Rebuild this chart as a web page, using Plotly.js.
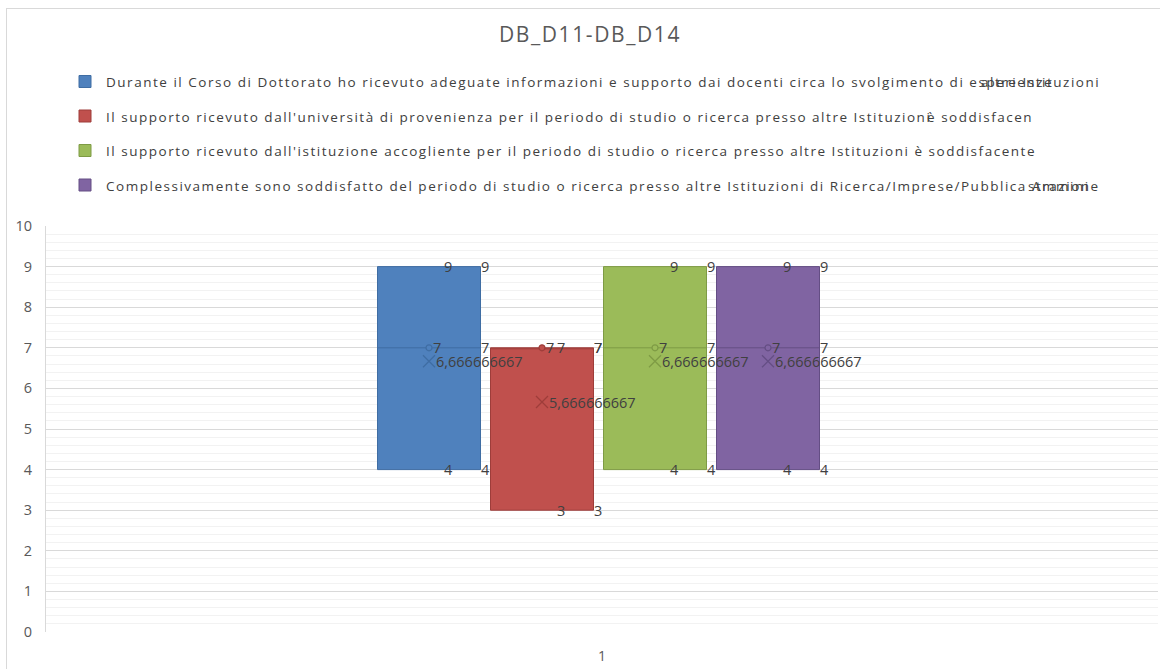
<!DOCTYPE html>
<html>
<head>
<meta charset="utf-8">
<script src="https://cdn.plot.ly/plotly-3.0.1.min.js"></script>
<style>
  html, body { margin: 0; padding: 0; background: #fff; overflow: hidden; }
  #wrap { position: relative; width: 1160px; height: 669px; overflow: hidden; }
  #chart { position: absolute; left: 0; top: 0; width: 1160px; height: 669px; }
  #frame { position: absolute; left: 6px; top: 8px; width: 1200px; height: 700px;
           border: 1px solid #d9d9d9; pointer-events: none; }
  .gtitle { letter-spacing: 1.6px; }
</style>
</head>
<body>
<div id="wrap"><div id="chart"></div><div id="frame"></div></div>
<script>
// ---------- data ----------
const chartTitle = "DB_D11-DB_D14";
const categories = ["1"];
const seriesNames = [
  "Durante il Corso di Dottorato ho ricevuto adeguate informazioni e supporto dai docenti circa lo svolgimento di esperienze",
  "Il supporto ricevuto dall'università di provenienza per il periodo di studio o ricerca presso altre Istituzioni",
  "Il supporto ricevuto dall'istituzione accogliente per il periodo di studio o ricerca presso altre Istituzioni è soddisfacente",
  "Complessivamente sono soddisfatto del periodo di studio o ricerca presso altre Istituzioni di Ricerca/Imprese/Pubblica Ammini"
];
// overflowing tails of the legend texts, drawn over the end as in the original
const seriesNameTails = ["altre Istituzioni", "è soddisfacen", "", "strazione"];
const seriesA = [4, 7, 9];
const seriesB = [3, 7, 7];
const seriesC = [4, 7, 9];
const seriesD = [4, 7, 9];
const seriesValues = [seriesA, seriesB, seriesC, seriesD];
const yTicks = [0, 1, 2, 3, 4, 5, 6, 7, 8, 9, 10];

// ---------- styles ----------
const fillColors = ["#4F81BD", "#C0504D", "#9BBB59", "#8064A2"];
const lineColors = ["#3F6DA3", "#9E3D3A", "#7E9B45", "#644E84"];
const textColor = "#404040";
const axisTextColor = "#595959";
const FONT = "Open Sans, Liberation Sans, sans-serif";
const LEG_SIZE = 13.5;
const legendRefWidthPx = 930;     // width of the complete 3rd legend text in the reference
const tailEndsPx = [1100, null, 0, 1100];   // null: tail follows the main text directly

// layout geometry (pixels)
const W = 1160, H = 669;
const M = { l: 46, r: 2, t: 226, b: 37 };
const plotW = W - M.l - M.r;
const plotH = H - M.t - M.b;
const pxU = 1 / plotW;          // one pixel in x data units (range width 1)
const pyU = 10 / plotH;         // one pixel in y data units
const boxWpx = 103, stepPx = 113, groupShiftPx = -3.5;
const legTextX = 104;

function px2paperX(px) { return (px - M.l) / plotW; }
function px2paperY(py) { return (M.t + plotH - py) / plotH; }

// text measuring helper
const svgNS = "http://www.w3.org/2000/svg";
const tsvg = document.createElementNS(svgNS, "svg");
tsvg.setAttribute("width", "10"); tsvg.setAttribute("height", "10");
tsvg.style.position = "absolute"; tsvg.style.left = "-9999px";
document.body.appendChild(tsvg);
function textWidth(str, size, ls) {
  const t = document.createElementNS(svgNS, "text");
  t.setAttribute("font-family", FONT); t.setAttribute("font-size", size);
  t.style.letterSpacing = (ls || 0) + "px";
  t.textContent = str; tsvg.appendChild(t);
  const w = t.getBBox().width; tsvg.removeChild(t); return w;
}
const natural3 = textWidth(seriesNames[2], LEG_SIZE, 0);
const legLS = Math.max(0, (legendRefWidthPx - natural3) / (seriesNames[2].length));
const st = document.createElement("style");
st.textContent = ".annotation-text { letter-spacing: " + legLS.toFixed(3) + "px; }";
document.head.appendChild(st);

function quart(arr) {
  const s = arr.slice().sort((a, b) => a - b);
  const n = s.length;
  const med = a => a.length % 2 ? a[(a.length - 1) / 2] : (a[a.length / 2 - 1] + a[a.length / 2]) / 2;
  const lower = s.slice(0, Math.floor(n / 2));
  const upper = s.slice(Math.ceil(n / 2));
  return { min: s[0], max: s[n - 1], q1: med(lower), med: med(s), q3: med(upper),
           mean: s.reduce((a, b) => a + b, 0) / n };
}
const fmt = v => Number.isInteger(v) ? String(v) : v.toPrecision(10).replace(".", ",");

const traces = [];
const annotations = [];
const shapes = [];
const nS = seriesValues.length;

seriesValues.forEach((vals, i) => {
  const cx = 1 + (groupShiftPx + (i - (nS - 1) / 2) * stepPx) * pxU;
  const hw = boxWpx / 2 * pxU;
  const s = quart(vals);
  traces.push({
    type: "box", x0: cx, y: vals, width: boxWpx * pxU,
    quartilemethod: "exclusive", boxpoints: false,
    fillcolor: fillColors[i], line: { color: lineColors[i], width: 1 },
    whiskerwidth: 0, name: seriesNames[i], showlegend: false, hoverinfo: "skip"
  });
  // median point (circle) and mean (x)
  traces.push({
    type: "scatter", mode: "markers", x: [cx], y: [s.med], showlegend: false, hoverinfo: "skip",
    marker: { symbol: "circle", size: 6, color: fillColors[i], line: { width: 1.2, color: lineColors[i] } },
    cliponaxis: false
  });
  traces.push({
    type: "scatter", mode: "markers", x: [cx], y: [s.mean], showlegend: false, hoverinfo: "skip",
    marker: { symbol: "x-thin-open", size: 12, color: lineColors[i], line: { width: 1.3, color: lineColors[i] } },
    cliponaxis: false
  });
  // data labels
  const dy = -2 * pyU;
  const lx = [cx + 15 * pxU, cx + 15 * pxU, cx + hw + 0.5 * pxU, cx + hw + 0.5 * pxU, cx + hw + 0.5 * pxU,
              cx + 4 * pxU, cx + 7 * pxU];
  const lv = [s.max, s.min, s.q3, s.med, s.q1, s.med, s.mean];
  traces.push({
    type: "scatter", mode: "text", x: lx, y: lv.map(v => v + dy), text: lv.map(fmt),
    textposition: "middle right", textfont: { family: FONT, size: 14.5, color: textColor },
    showlegend: false, hoverinfo: "skip", cliponaxis: false
  });

  // legend entry
  const rowY = 81.5 + i * 34.5;
  shapes.push({
    type: "rect", xref: "paper", yref: "paper",
    x0: px2paperX(79), x1: px2paperX(91), y0: px2paperY(rowY + 6), y1: px2paperY(rowY - 6),
    fillcolor: fillColors[i], line: { color: lineColors[i], width: 1 }
  });
  annotations.push({
    xref: "paper", yref: "paper", x: px2paperX(legTextX), y: px2paperY(rowY + 0.5),
    xanchor: "left", yanchor: "middle", showarrow: false, text: seriesNames[i],
    font: { family: FONT, size: LEG_SIZE, color: textColor }
  });
  const tail = seriesNameTails[i];
  if (tail) {
    const tw = textWidth(tail, LEG_SIZE, legLS);
    const mainEnd = legTextX + textWidth(seriesNames[i], LEG_SIZE, legLS);
    const startPx = tailEndsPx[i] ? tailEndsPx[i] - tw - 2 : mainEnd - 4;
    annotations.push({
      xref: "paper", yref: "paper", x: px2paperX(startPx), y: px2paperY(rowY + 0.5),
      xanchor: "left", yanchor: "middle", showarrow: false, text: tail,
      font: { family: FONT, size: LEG_SIZE, color: textColor }
    });
  }
});

const layout = {
  width: W, height: H, margin: M,
  paper_bgcolor: "#ffffff", plot_bgcolor: "#ffffff",
  showlegend: false,
  title: { text: chartTitle, x: 590 / W, xref: "container", xanchor: "center",
           y: 1 - 35 / H, yref: "container", yanchor: "middle",
           font: { family: FONT, size: 21, color: axisTextColor } },
  xaxis: { range: [0.5, 1.5], tickvals: [1], ticktext: categories, showgrid: false,
           zeroline: false, showline: false, ticks: "", fixedrange: true, ticklabelstandoff: 14,
           tickfont: { family: FONT, size: 14, color: axisTextColor } },
  yaxis: { range: [0, 10], tickvals: yTicks, ticktext: yTicks.map(String), showgrid: true,
           gridcolor: "#d9d9d9", gridwidth: 1, zeroline: false, showline: true, linecolor: "#d9d9d9",
           ticks: "", ticklabelstandoff: 10, fixedrange: true,
           minor: { dtick: 0.2, showgrid: true, gridcolor: "#f2f2f2", gridwidth: 1 },
           tickfont: { family: FONT, size: 14.5, color: axisTextColor } },
  annotations: annotations, shapes: shapes
};

Plotly.newPlot("chart", traces, layout, { displayModeBar: false, staticPlot: true });
</script>
</body>
</html>
